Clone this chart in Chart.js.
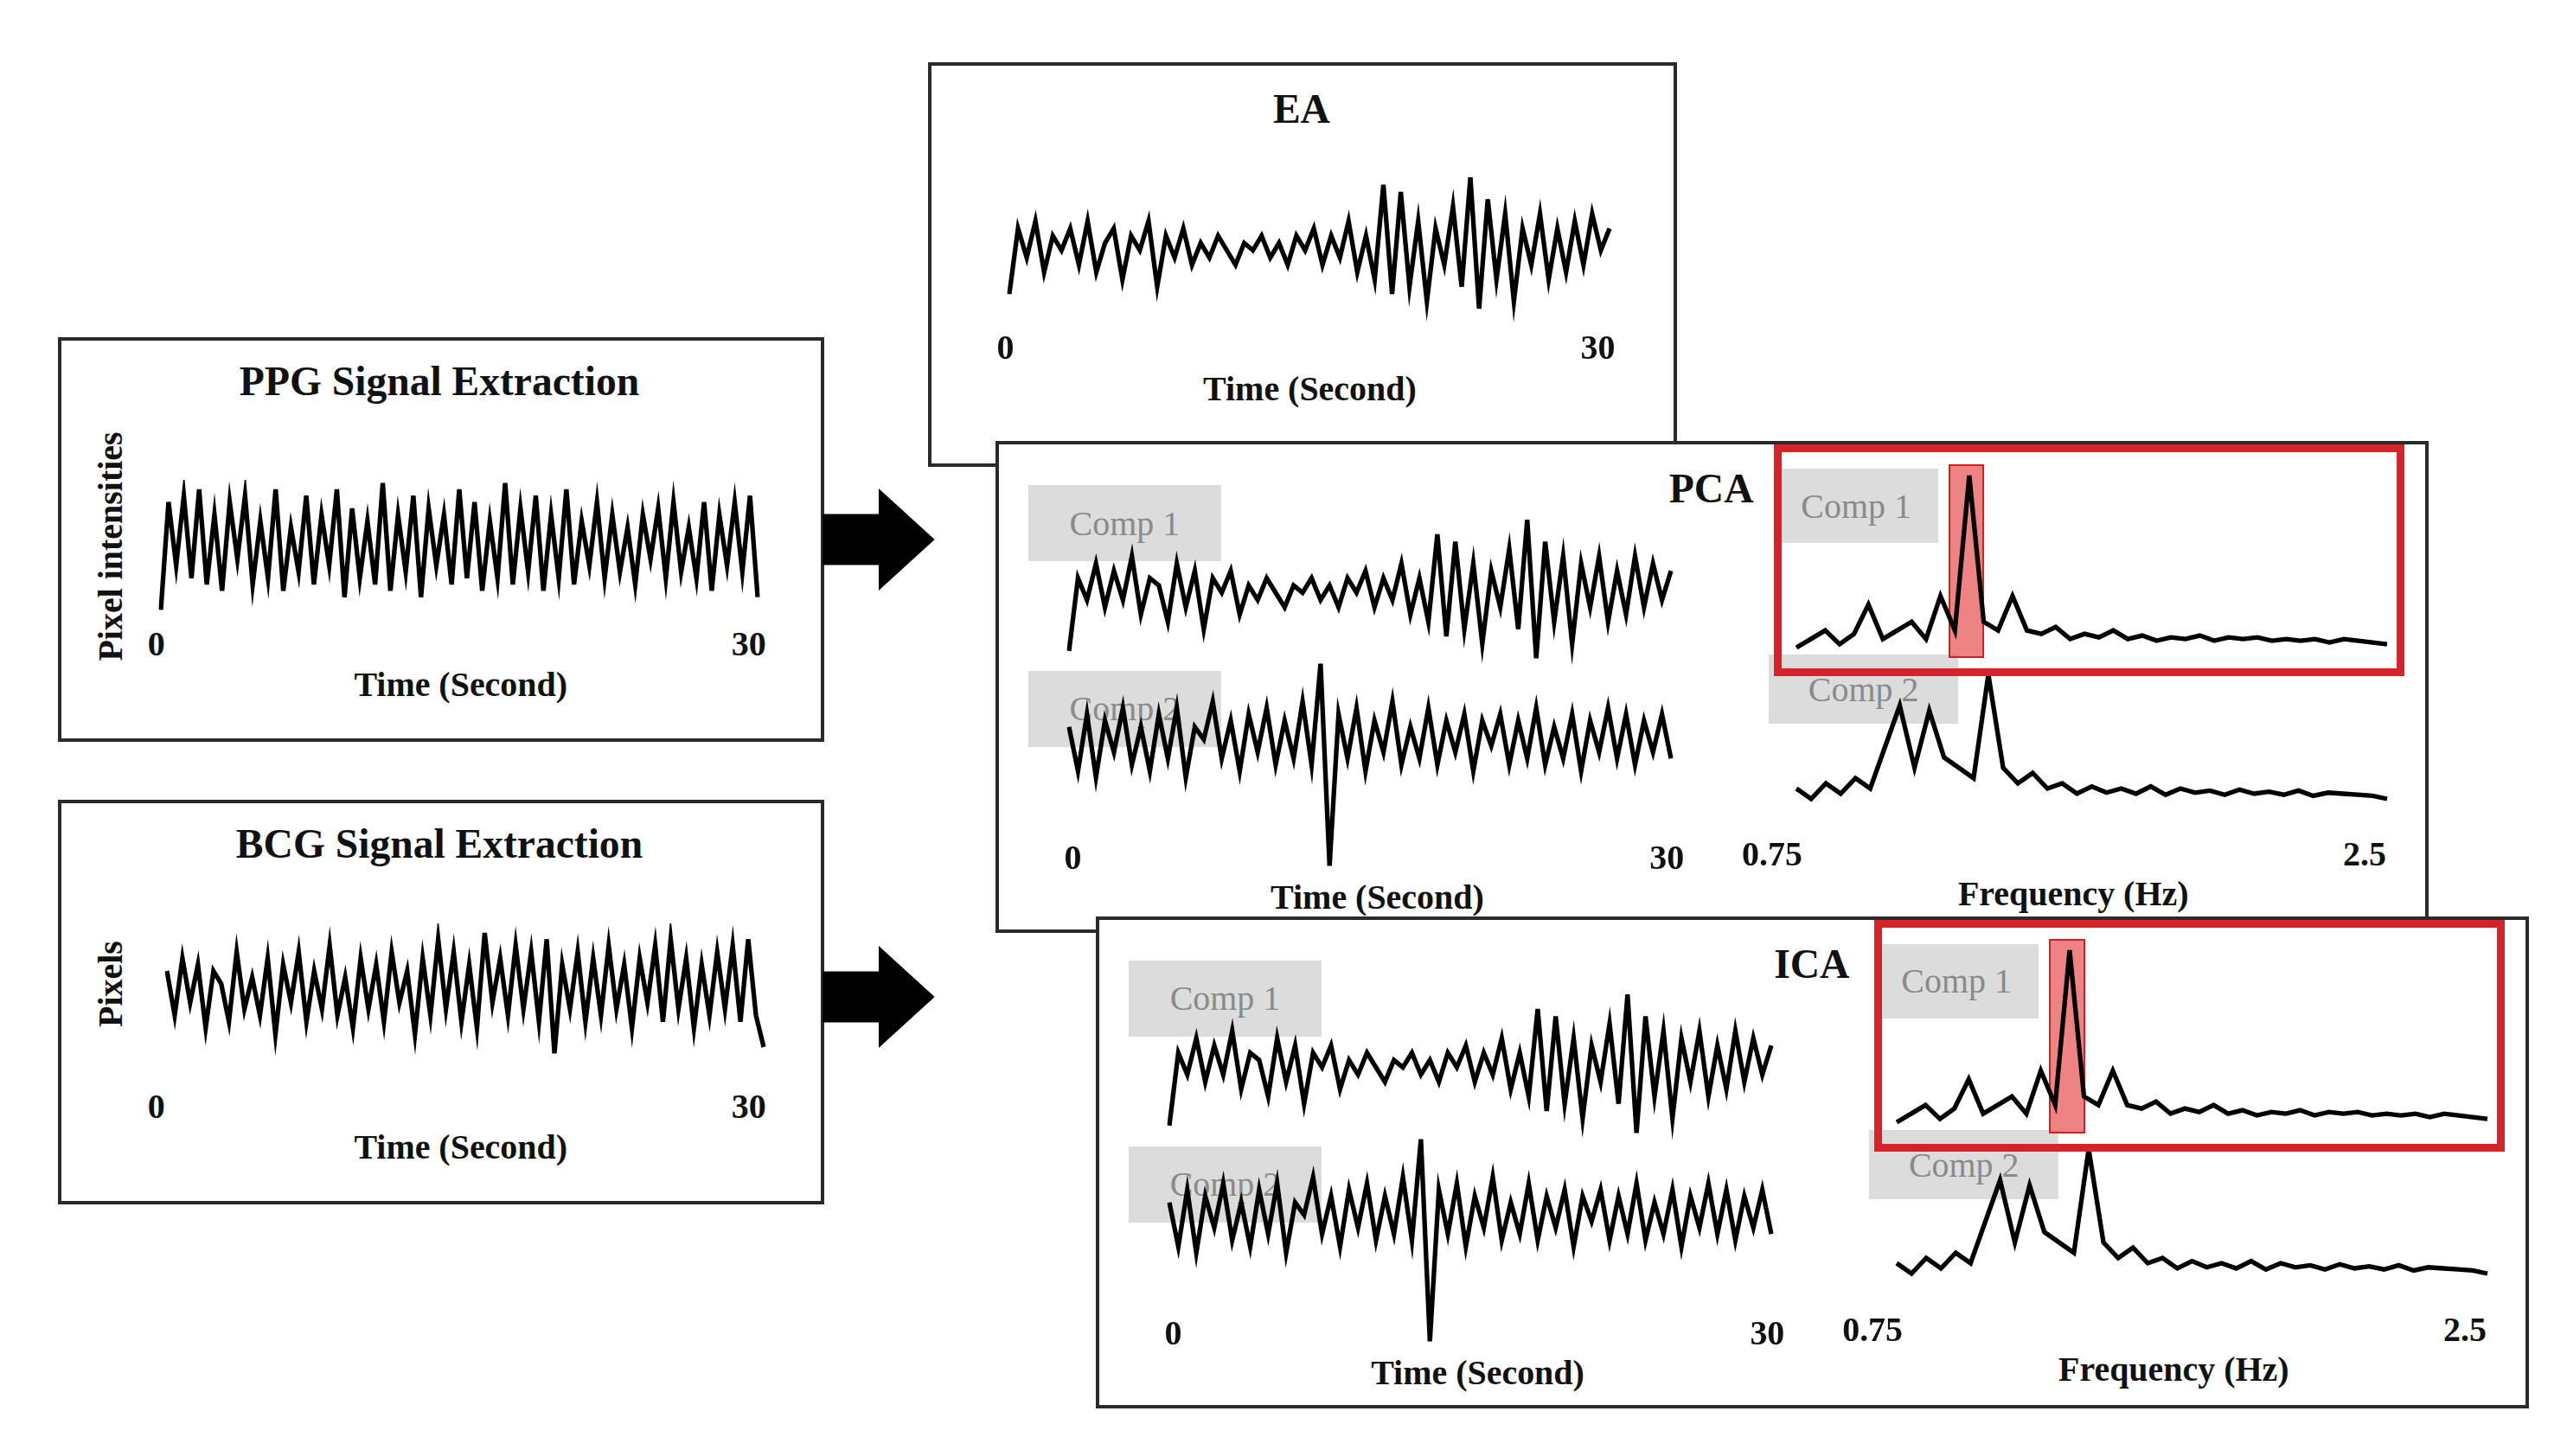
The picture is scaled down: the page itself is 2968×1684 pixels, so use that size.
<!DOCTYPE html>
<html>
<head>
<meta charset="utf-8">
<script src="https://cdn.jsdelivr.net/npm/chart.js@4.4.1/dist/chart.umd.min.js"></script>
<style>
  body { margin: 0; background: #fff; }
  #stage { position: relative; width: 2968px; height: 1684px; overflow: hidden; background: #fff; }
  .box { position: absolute; background: #fff; border: 4px solid #2a2a2a; box-sizing: border-box; }
  .txt { position: absolute; font-family: "Liberation Serif", "DejaVu Serif", serif; font-weight: bold; color: #111; white-space: nowrap; transform: translate(-50%, -50%); }
  .comp { position: absolute; background: #dcdcdc; color: #8a8a8a; font-family: "Liberation Serif", serif; display: flex; align-items: center; justify-content: center; }
  canvas { position: absolute; }
</style>
</head>
<body>
<div id="stage"></div>
<script>
// reference coordinates are on a 1560 wide sketch, scaled to the window
const S = 2968 / 1560;

const ppg = [-1.0,0.7,-0.3,0.8,-0.5,0.9,-0.6,0.5,-0.7,0.7,-0.2,0.8,-0.6,0.4,-0.5,0.9,-0.7,0.3,-0.4,0.8,-0.6,0.5,-0.3,0.9,-0.8,0.6,-0.5,0.4,-0.6,1.0,-0.7,0.5,-0.4,0.8,-0.8,0.6,-0.3,0.5,-0.6,0.9,-0.5,0.7,-0.7,0.4,-0.5,1.0,-0.6,0.6,-0.4,0.8,-0.7,0.5,-0.5,0.9,-0.6,0.4,-0.3,0.7,-0.5,0.5,-0.4,0.3,-0.6,0.5,-0.2,0.6,-0.5,0.7,-0.4,0.3,-0.5,0.7,-0.7,0.5,-0.3,0.7,-0.4,0.8,-0.8];
const bcg = [0.3,-0.4,0.5,-0.2,0.4,-0.6,0.3,0.1,-0.5,0.6,-0.3,0.2,-0.4,0.5,-0.7,0.4,-0.2,0.6,-0.5,0.3,-0.3,0.7,-0.4,0.2,-0.6,0.5,-0.3,0.4,-0.5,0.6,-0.2,0.3,-0.7,0.5,-0.4,0.8,-0.3,0.6,-0.5,0.4,-0.6,0.9,-0.2,0.5,-0.4,0.7,-0.3,0.6,-0.5,0.8,-1.0,0.4,-0.3,0.6,-0.5,0.5,-0.4,0.7,-0.3,0.4,-0.6,0.5,-0.2,0.7,-0.5,0.8,-0.3,0.5,-0.6,0.4,-0.4,0.6,-0.3,0.7,-0.5,0.8,-0.4,-0.9];
const ea = [-0.6,0.3,-0.1,0.4,-0.3,0.2,0.0,0.3,-0.2,0.4,-0.3,0.1,0.3,-0.4,0.2,0.0,0.4,-0.5,0.2,-0.1,0.3,-0.2,0.1,-0.1,0.2,0.0,-0.2,0.1,0.0,0.2,-0.1,0.1,-0.2,0.2,0.0,0.3,-0.2,0.2,-0.1,0.4,-0.3,0.2,-0.4,0.9,-0.6,0.8,-0.5,0.4,-0.7,0.3,-0.2,0.6,-0.5,1.0,-0.8,0.7,-0.4,0.5,-0.7,0.3,-0.2,0.5,-0.4,0.3,-0.3,0.4,-0.2,0.5,0.0,0.3];
const comp1 = [-0.8,0.2,-0.1,0.4,-0.2,0.3,-0.1,0.5,-0.3,0.2,0.1,-0.4,0.4,-0.2,0.3,-0.5,0.2,0.0,0.3,-0.3,0.1,-0.1,0.2,0.0,-0.2,0.1,0.0,0.2,-0.1,0.1,-0.2,0.2,0.0,0.3,-0.2,0.2,-0.1,0.4,-0.3,0.2,-0.4,0.8,-0.6,0.7,-0.5,0.4,-0.7,0.3,-0.2,0.6,-0.5,1.0,-0.9,0.7,-0.4,0.5,-0.7,0.4,-0.2,0.5,-0.4,0.3,-0.3,0.5,-0.2,0.4,-0.1,0.3];
const comp2 = [0.2,-0.5,0.4,-0.6,0.3,-0.2,0.5,-0.4,0.2,-0.5,0.4,-0.3,0.5,-0.6,0.2,0.0,0.6,-0.3,0.3,-0.5,0.4,-0.2,0.5,-0.4,0.3,-0.3,0.6,-0.4,1.2,-2.0,0.4,-0.3,0.5,-0.5,0.3,-0.2,0.6,-0.4,0.2,-0.3,0.5,-0.4,0.3,-0.2,0.4,-0.5,0.3,-0.1,0.4,-0.4,0.3,-0.3,0.5,-0.4,0.2,-0.3,0.4,-0.5,0.3,-0.2,0.5,-0.3,0.4,-0.4,0.3,-0.2,0.4,-0.3];
const spec1 = [0.0,0.05,0.1,0.02,0.08,0.25,0.05,0.1,0.15,0.05,0.3,0.1,1.0,0.15,0.1,0.3,0.1,0.08,0.12,0.05,0.08,0.06,0.1,0.05,0.07,0.04,0.06,0.05,0.07,0.04,0.06,0.05,0.06,0.04,0.05,0.04,0.05,0.03,0.05,0.04,0.03,0.02];
const spec2 = [0.1,0.0,0.15,0.05,0.2,0.1,0.5,0.9,0.3,0.85,0.4,0.3,0.2,1.2,0.3,0.15,0.25,0.1,0.15,0.05,0.12,0.06,0.1,0.05,0.12,0.04,0.1,0.06,0.08,0.04,0.09,0.05,0.07,0.04,0.08,0.03,0.06,0.05,0.04,0.03,0.0];
const timeTicks = ['0', '30'];
const freqTicks = ['0.75', '2.5'];

const stage = document.getElementById('stage');

function box(x, y, w, h) {
  const d = document.createElement('div');
  d.className = 'box';
  Object.assign(d.style, { left: x * S + 'px', top: y * S + 'px', width: w * S + 'px', height: h * S + 'px' });
  stage.appendChild(d);
}

function text(t, x, y, size, rot) {
  const d = document.createElement('div');
  d.className = 'txt';
  d.textContent = t;
  d.style.left = x * S + 'px';
  d.style.top = y * S + 'px';
  d.style.fontSize = size * S + 'px';
  if (rot) d.style.transform = 'translate(-50%, -50%) rotate(-90deg)';
  stage.appendChild(d);
}

function comp(t, x, y, w, h) {
  const d = document.createElement('div');
  d.className = 'comp';
  d.textContent = t;
  Object.assign(d.style, { left: x * S + 'px', top: y * S + 'px', width: w * S + 'px', height: h * S + 'px', fontSize: 21 * S + 'px' });
  stage.appendChild(d);
}

function rect(x, y, w, h, border, fill) {
  const d = document.createElement('div');
  Object.assign(d.style, { position: 'absolute', boxSizing: 'border-box', left: x * S + 'px', top: y * S + 'px', width: w * S + 'px', height: h * S + 'px', border: border, background: fill || 'transparent' });
  stage.appendChild(d);
}

function line(values, x, y, w, h, ymin, ymax, width) {
  const c = document.createElement('canvas');
  c.width = Math.round(w * S); c.height = Math.round(h * S);
  c.style.left = x * S + 'px'; c.style.top = y * S + 'px';
  c.style.width = c.width + 'px'; c.style.height = c.height + 'px';
  stage.appendChild(c);
  new Chart(c, {
    type: 'line',
    data: { labels: values.map((_, i) => i), datasets: [{ data: values, borderColor: '#000', borderWidth: (width || 2.8) * S, pointRadius: 0, tension: 0 }] },
    options: {
      responsive: false, animation: false, devicePixelRatio: 1,
      layout: { padding: 3 },
      plugins: { legend: { display: false }, tooltip: { enabled: false } },
      scales: { x: { display: false }, y: { display: false, min: ymin, max: ymax } }
    }
  });
}

// PPG panel
box(35, 205, 466, 246);
text('PPG Signal Extraction', 267, 232, 25);
text('Pixel intensities', 67, 332, 21, true);
line(ppg, 96, 290, 366, 84, -1.05, 1.05);
text(timeTicks[0], 95, 391, 21); text(timeTicks[1], 455, 391, 21);
text('Time (Second)', 280, 416, 21);

// BCG panel
box(35, 486, 466, 246);
text('BCG Signal Extraction', 267, 513, 25);
text('Pixels', 67, 598, 21, true);
line(bcg, 100, 560, 366, 84, -1.05, 1.05);
text(timeTicks[0], 95, 672, 21); text(timeTicks[1], 455, 672, 21);
text('Time (Second)', 280, 697, 21);

// arrows
function arrow(y) {
  const d = document.createElement('div');
  Object.assign(d.style, { position: 'absolute', left: 500 * S + 'px', top: (y - 30) * S + 'px', width: 68 * S + 'px', height: 62 * S + 'px', background: '#000',
    clipPath: 'polygon(0 25%, 50% 25%, 50% 0, 100% 50%, 50% 100%, 50% 75%, 0 75%)' });
  stage.appendChild(d);
}
arrow(327); arrow(605);

// EA panel
box(564, 38, 455, 246);
text('EA', 791, 66, 25);
line(ea, 612, 104, 368, 96, -1.05, 1.05);
text(timeTicks[0], 611, 211, 21); text(timeTicks[1], 971, 211, 21);
text('Time (Second)', 796, 236, 21);

// PCA / ICA panels share layout, ICA shifted
function decomp(title, dx, dy) {
  box(605 + dx, 268 + dy, 871, 299);
  text(title, 1040 + dx, 297 + dy, 25);
  comp('Comp 1', 625 + dx, 295 + dy, 117, 46);
  comp('Comp 2', 625 + dx, 408 + dy, 117, 46);
  comp('Comp 1', 1078 + dx, 285 + dy, 100, 45);
  comp('Comp 2', 1075 + dx, 398 + dy, 115, 42);
  rect(1184 + dx, 282 + dy, 22, 118, '2px solid #c22', 'rgba(232,90,90,0.75)');
  line(comp1, 648 + dx, 312 + dy, 369, 96, -1.05, 1.05);
  line(comp2, 648 + dx, 400 + dy, 369, 130, -2.05, 1.25);
  line(spec1, 1090 + dx, 282 + dy, 362, 118, -0.05, 1.05);
  line(spec2, 1090 + dx, 405 + dy, 362, 85, -0.05, 1.25);
  rect(1078 + dx, 270 + dy, 383, 141, (5 * S) + 'px solid #d6232a');
  text(timeTicks[0], 652 + dx, 521 + dy, 21); text(timeTicks[1], 1013 + dx, 521 + dy, 21);
  text('Time (Second)', 837 + dx, 545 + dy, 21);
  text(freqTicks[0], 1077 + dx, 519 + dy, 21); text(freqTicks[1], 1437 + dx, 519 + dy, 21);
  text('Frequency (Hz)', 1260 + dx, 543 + dy, 21);
}
decomp('PCA', 0, 0);
decomp('ICA', 61, 289);
</script>
</body>
</html>
